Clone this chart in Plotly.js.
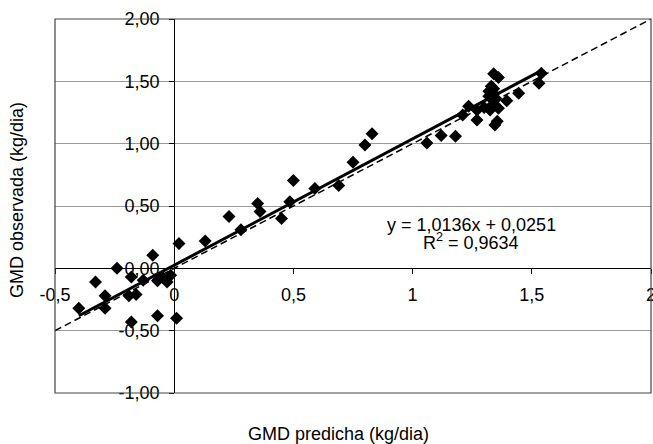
<!DOCTYPE html>
<html>
<head>
<meta charset="utf-8">
<script src="https://cdn.plot.ly/plotly-3.0.1.min.js"></script>
<style>html,body{margin:0;padding:0;background:#fff;}#chart{width:653px;height:444px;}</style>
</head>
<body>
<div id="chart"></div>
<script>
// GMD predicha (x) vs GMD observada (y), kg/dia
const predicted = [-0.40, -0.33, -0.29, -0.29, -0.24, -0.19, -0.18, -0.18, -0.16, -0.13, -0.09, -0.07, -0.07, -0.05, -0.03, -0.015, 0.01, 0.02,
  0.13, 0.23, 0.28, 0.35, 0.36, 0.45, 0.485, 0.50, 0.59, 0.69, 0.75, 0.80, 0.83, 1.06, 1.12, 1.18,
  1.21, 1.235, 1.27, 1.27, 1.30, 1.32, 1.32, 1.325, 1.33, 1.335, 1.34, 1.34, 1.34, 1.345, 1.35, 1.355, 1.36, 1.36, 1.395, 1.445, 1.53, 1.54];
const observed = [-0.32, -0.11, -0.22, -0.32, 0.00, -0.22, -0.07, -0.43, -0.21, -0.095, 0.105, -0.10, -0.38, -0.07, -0.11, -0.055, -0.40, 0.20,
  0.22, 0.415, 0.31, 0.52, 0.455, 0.40, 0.535, 0.705, 0.64, 0.665, 0.85, 0.99, 1.08, 1.005, 1.065, 1.06,
  1.23, 1.30, 1.19, 1.27, 1.29, 1.42, 1.38, 1.27, 1.46, 1.31, 1.56, 1.40, 1.44, 1.15, 1.36, 1.18, 1.285, 1.53, 1.345, 1.405, 1.485, 1.565];

const fitSlope = 1.0136;
const fitIntercept = 0.0251;
const fitRange = [-0.40, 1.54];
const identityRange = [-0.5, 2];

const xTickVals = [-0.5, 0, 0.5, 1, 1.5, 2];
const xTickText = ['-0,5', '0', '0,5', '1', '1,5', '2'];
const yTickVals = [-1, -0.5, 0, 0.5, 1, 1.5, 2];
const yTickText = ['-1,00', '-0,50', '0,00', '0,50', '1,00', '1,50', '2,00'];

const equationText = 'y = 1,0136x + 0,0251';
const r2Text = 'R<sup>2</sup> = 0,9634';
const xTitle = 'GMD predicha (kg/dia)';
const yTitle = 'GMD observada (kg/dia)';

const FONT = '"Liberation Sans", Arial, sans-serif';

const traces = [
  {
    x: identityRange, y: identityRange,
    mode: 'lines', type: 'scatter', hoverinfo: 'skip',
    line: {color: '#000', width: 1.5, dash: '7px,4px'}
  },
  {
    x: fitRange, y: fitRange.map(v => fitSlope * v + fitIntercept),
    mode: 'lines', type: 'scatter', hoverinfo: 'skip',
    line: {color: '#000', width: 3}
  },
  {
    x: predicted, y: observed,
    mode: 'markers', type: 'scatter',
    marker: {symbol: 'diamond', size: 10, color: '#000'}
  }
];

const layout = {
  width: 653, height: 444,
  margin: {l: 55, r: 2, t: 19, b: 51, pad: 0},
  paper_bgcolor: '#fff', plot_bgcolor: '#fff',
  showlegend: false,
  font: {family: FONT, size: 17, color: '#000'},
  xaxis: {
    range: [-0.5, 2], anchor: 'free', position: 1/3,
    showline: true, linecolor: '#000', linewidth: 1,
    showgrid: false, zeroline: false,
    ticks: 'outside', ticklen: 5, tickcolor: '#000', tickwidth: 1,
    tickvals: xTickVals, ticktext: xTickText,
    tickfont: {family: FONT, size: 18, color: '#000'},
    ticklabelstandoff: 5,
    ticklabeloverflow: 'allow'
  },
  yaxis: {
    range: [-1, 2], anchor: 'free', position: 0.2,
    showline: true, linecolor: '#000', linewidth: 1,
    showgrid: true, gridcolor: '#999', gridwidth: 1, zeroline: false,
    ticks: 'outside', ticklen: 5, tickcolor: '#000', tickwidth: 1,
    tickvals: yTickVals, ticktext: yTickText,
    tickfont: {family: FONT, size: 18, color: '#000'},
    ticklabelstandoff: 6,
    ticklabeloverflow: 'allow'
  },
  shapes: [
    {type: 'rect', xref: 'paper', yref: 'paper', x0: 0, x1: 1, y0: 0, y1: 1,
     line: {color: '#444', width: 1.2}, fillcolor: 'rgba(0,0,0,0)', layer: 'above'}
  ],
  annotations: [
    {text: equationText, xref: 'x', yref: 'y', x: 1.245, y: 0.35, showarrow: false,
     xanchor: 'center', yanchor: 'middle', font: {family: FONT, size: 18, color: '#000'}},
    {text: r2Text, xref: 'x', yref: 'y', x: 1.245, y: 0.215, showarrow: false,
     xanchor: 'center', yanchor: 'middle', font: {family: FONT, size: 18, color: '#000'}},
    {text: xTitle, xref: 'paper', yref: 'paper', x: 0.475, y: -0.11, showarrow: false,
     xanchor: 'center', yanchor: 'middle', font: {family: FONT, size: 18, color: '#000'}},
    {text: yTitle, xref: 'paper', yref: 'paper', x: 0, xshift: -38, y: 0.516, showarrow: false,
     textangle: -90, xanchor: 'center', yanchor: 'middle', font: {family: FONT, size: 18, color: '#000'}}
  ]
};

Plotly.newPlot('chart', traces, layout, {staticPlot: true, displayModeBar: false});
</script>
</body>
</html>
